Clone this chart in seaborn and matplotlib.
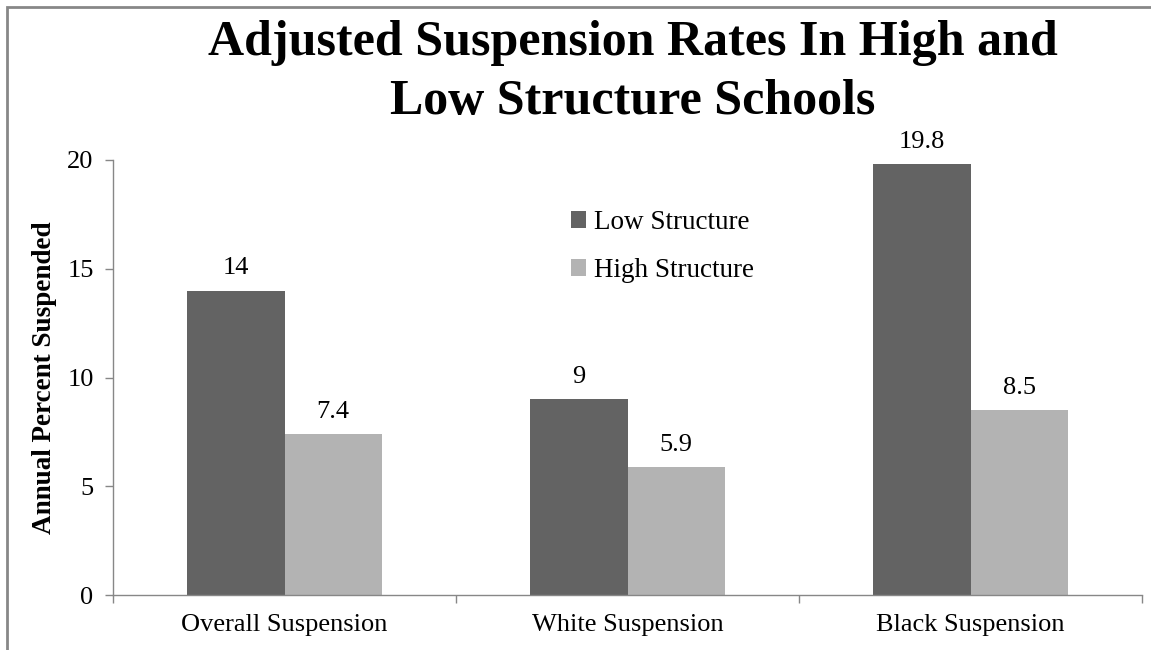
import matplotlib
matplotlib.use("Agg")
import matplotlib.pyplot as plt
import seaborn as sns
import pandas as pd
from matplotlib.patches import Rectangle
from matplotlib.ticker import FixedLocator

categories = ["Overall Suspension", "White Suspension", "Black Suspension"]
low_structure = [14, 9, 19.8]
high_structure = [7.4, 5.9, 8.5]
series_names = ["Low Structure", "High Structure"]
y_ticks = [0, 5, 10, 15, 20]

df = pd.DataFrame({
    "category": categories * 2,
    "value": low_structure + high_structure,
    "series": [series_names[0]] * 3 + [series_names[1]] * 3,
})

sns.set_style("white")
plt.rcParams['font.family'] = ['Liberation Serif', 'DejaVu Serif']
plt.rcParams['text.color'] = 'black'
plt.rcParams['axes.labelcolor'] = 'black'
plt.rcParams['xtick.color'] = 'black'
plt.rcParams['ytick.color'] = 'black'

fig = plt.figure(figsize=(11.51, 6.5), dpi=100)
ax = fig.add_axes([113 / 1151, 1 - 595 / 650, (1142 - 113) / 1151, (595 - 160) / 650])

sns.barplot(data=df, x="category", y="value", hue="series", order=categories,
            hue_order=series_names, palette=["#636363", "#b3b3b3"],
            width=0.568, saturation=1, linewidth=0, edgecolor="none", ax=ax)

for cont in ax.containers:
    ax.bar_label(cont, labels=[f"{v:g}" for v in cont.datavalues],
                 padding=8, fontsize=19)

ax.set_xlim(-0.5, 2.5)
ax.set_ylim(0, 20)
ax.set_yticks(y_ticks)
ax.tick_params(axis="y", labelsize=19, length=6, width=1, color="#878787",
               labelcolor="black", direction="out", left=True, pad=8)
ax.tick_params(axis="x", which="major", labelsize=19, length=0, pad=14,
               labelcolor="black")
ax.xaxis.set_minor_locator(FixedLocator([-0.5, 0.5, 1.5, 2.5]))
ax.tick_params(axis="x", which="minor", length=6, width=1, color="#878787",
               direction="out", bottom=True)
ax.set_xlabel("")
ax.set_ylabel("Annual Percent Suspended", fontsize=19.5, fontweight="bold", labelpad=7)
for side in ["top", "right"]:
    ax.spines[side].set_visible(False)
for side in ["left", "bottom"]:
    ax.spines[side].set_color("#878787")
    ax.spines[side].set_linewidth(1)

leg = ax.legend(loc="upper left", bbox_to_anchor=(0.445, 0.885), frameon=False,
                fontsize=19.5, handlelength=0.57, handleheight=0.57,
                handletextpad=0.3, labelspacing=0.85, borderpad=0, borderaxespad=0)

fig.text(633 / 1151, 1 - 20 / 650, "Adjusted Suspension Rates In High and\nLow Structure Schools",
         ha="center", va="top", fontsize=36, fontweight="bold", linespacing=1.36)

fig.patches.append(Rectangle((6.5 / 1151, -0.05), 1.2, 1.05 - 6.5 / 650,
                             transform=fig.transFigure, fill=False,
                             edgecolor="#878787", linewidth=2))

fig.savefig("out.png", dpi=100)
